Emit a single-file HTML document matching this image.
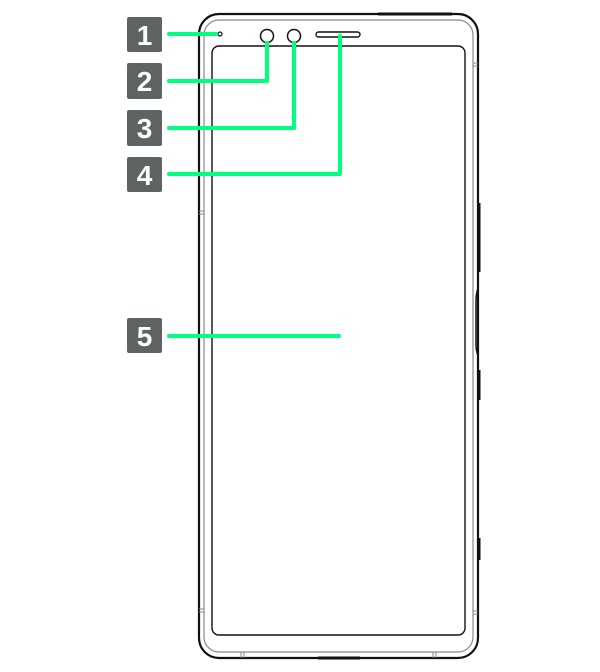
<!DOCTYPE html>
<html><head><style>
html,body{margin:0;padding:0;background:#fff;width:600px;height:672px;overflow:hidden}
.lbl{font-family:"Liberation Sans",sans-serif;font-weight:bold;font-size:28px;fill:#fff}
</style></head><body>
<svg width="600" height="672" viewBox="0 0 600 672" xmlns="http://www.w3.org/2000/svg">
<!-- body -->
<rect x="199" y="14" width="279" height="644" rx="20" fill="none" stroke="#111" stroke-width="2.2"/>
<rect x="204" y="20" width="269" height="632" rx="15" fill="none" stroke="#888" stroke-width="1.2"/>
<rect x="212" y="46" width="253" height="589" rx="7" fill="none" stroke="#111" stroke-width="1.4"/>
<!-- side details -->
<line x1="199" y1="211" x2="204" y2="211" stroke="#888"/><line x1="199" y1="214" x2="204" y2="214" stroke="#888"/>
<line x1="199" y1="609" x2="204" y2="609" stroke="#888"/><line x1="199" y1="612" x2="204" y2="612" stroke="#888"/>
<line x1="473" y1="611" x2="478" y2="611" stroke="#888"/><line x1="473" y1="614" x2="478" y2="614" stroke="#888"/>
<line x1="473" y1="63" x2="478" y2="63" stroke="#888"/><line x1="473" y1="66" x2="478" y2="66" stroke="#888"/>
<line x1="479" y1="203" x2="479" y2="272" stroke="#111" stroke-width="3"/>
<line x1="479" y1="370" x2="479" y2="400" stroke="#111" stroke-width="3"/>
<line x1="479" y1="538" x2="479" y2="560" stroke="#111" stroke-width="3"/>
<path d="M478 288 Q476 295 476 300 L476 345 Q476 350 478 356" fill="none" stroke="#111" stroke-width="1.5"/>
<line x1="378" y1="14" x2="452" y2="14" stroke="#111" stroke-width="3"/>
<line x1="318" y1="658" x2="360" y2="658" stroke="#111" stroke-width="3"/>
<line x1="241" y1="652" x2="241" y2="658" stroke="#888"/><line x1="244" y1="652" x2="244" y2="658" stroke="#888"/>
<line x1="433" y1="652" x2="433" y2="658" stroke="#888"/><line x1="436" y1="652" x2="436" y2="658" stroke="#888"/>
<!-- sensors -->
<circle cx="220" cy="34" r="2" fill="none" stroke="#111" stroke-width="1.2"/>
<circle cx="267" cy="36" r="6.5" fill="none" stroke="#111" stroke-width="1.5"/>
<circle cx="294" cy="36" r="6.5" fill="none" stroke="#111" stroke-width="1.5"/>
<rect x="316" y="32" width="44" height="5" rx="2.5" fill="none" stroke="#111" stroke-width="1.4"/>
<!-- connectors -->
<g fill="none" stroke="#00ff7f" stroke-width="4" stroke-linecap="round" stroke-linejoin="round">
<line x1="169" y1="34" x2="216" y2="34"/>
<polyline points="169,81 267,81 267,43"/>
<polyline points="169,128 294,128 294,43"/>
<polyline points="169,174 340,174 340,36"/>
<line x1="169" y1="336" x2="339" y2="336"/>
</g>
<!-- labels -->
<g fill="#5e6364">
<rect x="127" y="17" width="35" height="35" rx="2"/>
<rect x="127" y="63" width="35" height="36" rx="2"/>
<rect x="127" y="110" width="35" height="36" rx="2"/>
<rect x="127" y="157" width="35" height="35" rx="2"/>
<rect x="127" y="318" width="35" height="35" rx="2"/>
</g>
<g class="lbl" text-anchor="middle">
<text x="144.5" y="45">1</text>
<text x="144.5" y="91">2</text>
<text x="144.5" y="138">3</text>
<text x="144.5" y="185">4</text>
<text x="144.5" y="346">5</text>
</g>
</svg>
</body></html>
